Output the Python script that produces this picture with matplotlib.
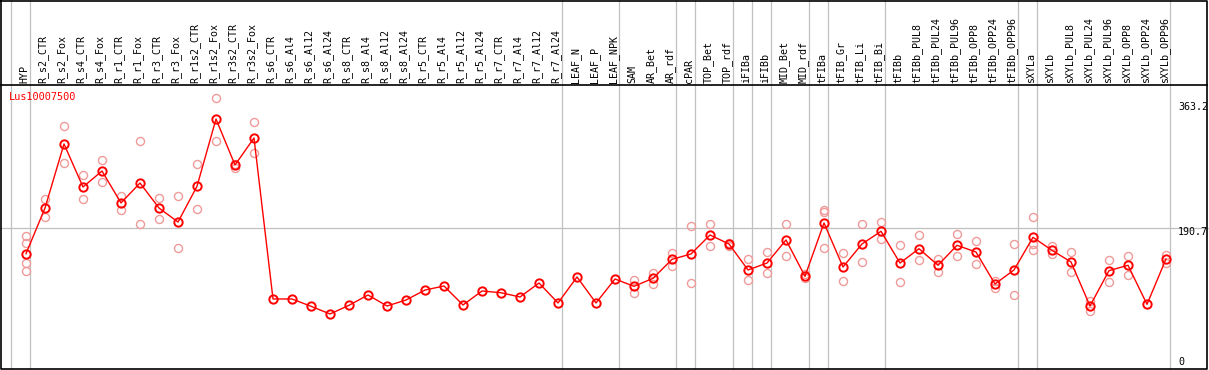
import matplotlib
matplotlib.use("Agg")
import matplotlib.pyplot as plt
from matplotlib.transforms import Affine2D, blended_transform_factory

W, H = 1209, 370

categories = ["HYP", "R_s2_CTR", "R_s2_Fox", "R_s4_CTR", "R_s4_Fox", "R_r1_CTR", "R_r1_Fox",
              "R_r3_CTR", "R_r3_Fox", "R_r1s2_CTR", "R_r1s2_Fox", "R_r3s2_CTR", "R_r3s2_Fox",
              "R_s6_CTR", "R_s6_Al4", "R_s6_Al12", "R_s6_Al24", "R_s8_CTR", "R_s8_Al4", "R_s8_Al12",
              "R_s8_Al24", "R_r5_CTR", "R_r5_Al4", "R_r5_Al12", "R_r5_Al24", "R_r7_CTR", "R_r7_Al4",
              "R_r7_Al12", "R_r7_Al24", "LEAF_N", "LEAF_P", "LEAF_NPK", "SAM", "AR_Bet", "AR_rdf",
              "cPAR", "TOP_Bet", "TOP_rdf", "iFIBa", "iFIBb", "MID_Bet", "MID_rdf", "tFIBa",
              "tFIB_Gr", "tFIB_Li", "tFIB_Bi", "tFIBb", "tFIBb_PUL8", "tFIBb_PUL24", "tFIBb_PUL96",
              "tFIBb_OPP8", "tFIBb_OPP24", "tFIBb_OPP96", "sXYLa", "sXYLb", "sXYLb_PUL8",
              "sXYLb_PUL24", "sXYLb_PUL96", "sXYLb_OPP8", "sXYLb_OPP24", "sXYLb_OPP96"]

means = [157, 217.6, 302.6, 245.5, 266.7, 224.3, 250.8, 217.6, 199, 246.4, 335.7, 274.7, 310.5,
         96.9, 96.9, 87.2, 77, 88.5, 102.2, 87.6, 95.5, 108.8, 114.1, 88.9, 107.5, 105.2, 99.5,
         118.1, 91.6, 126.1, 91.6, 123.4, 113.7, 124.3, 149.5, 156.6, 181.8, 169.9, 135.4, 144.6,
         175.2, 127, 197.7, 139.3, 169.9, 186.7, 144.6, 163.6, 141.6, 168.1, 159.2, 116.8, 135.4,
         178.7, 161.5, 146, 87.6, 134.5, 141.6, 89.8, 150]

replicates = [[180, 171, 144, 134], [229.6, 205.3], [326, 277], [261, 229.6], [281, 252],
              [233.6, 214.5], [306.5, 196.4], [230.9, 202.6], [233.6, 164], [276, 216.3],
              [363.2, 306.5], [276, 270.3], [331.8, 290.2],
              [], [], [], [], [], [], [], [], [], [], [], [], [], [], [], [], [], [], [],
              [122.1, 104.4], [131.8, 117.2], [157.9, 140.3], [193.7, 117.7], [196.4, 167.2],
              [171.2, 167.2], [150, 121.7], [159.2, 131], [196.4, 153.5], [129.6, 125.1],
              [214.5, 212.7, 164.1], [157.5, 120.8], [196.4, 146], [199, 176.9], [168.5, 119],
              [181.4, 148.2], [149.5, 133.1], [183.1, 153.5], [173.8, 143.3], [120.8, 111.9],
              [169.5, 101.8], [205.7, 169.5, 161.9], [167.6, 156.6], [159.2, 132.3],
              [94.6, 80.5], [148.6, 119.4], [153.9, 128.3], [], [154.9, 145]]

group_ends = [-1, 0, 28, 31, 34, 35, 37, 38, 39, 41, 42, 45, 52, 53, 60]
axis_labels = [363.2, 190.7, 0]
title = "Lus10007500"

fig = plt.figure(figsize=(W / 100, H / 100), dpi=100)
ax = fig.add_axes([0, 0, 1, 1])
ax.set_axis_off()

# pixel layout: column i at x = 26 + 19*i ; value v at y_from_top = 372 - 0.7536*v
x0, dx = 26.0, 19.0
ax.set_xlim(-x0 / dx, (W - x0) / dx)
sc = 0.7536
ax.set_ylim((372 - H) / sc, 372 / sc)

pix = Affine2D().scale(1 / W, -1 / H).translate(0, 1) + fig.transFigure
xpix = blended_transform_factory(ax.transData, pix)

mono = "DejaVu Sans Mono"
grey = "#c0c0c0"

# separators
for g in group_ends:
    ax.plot([g + 1 - 14.8 / dx] * 2, [0, 1], transform=blended_transform_factory(ax.transData, ax.transAxes),
            color=grey, lw=0.9, zorder=1)
ax.axhline(190.7, color=grey, lw=0.9, zorder=1)

# frame and header line
ax.plot([1, 1207, 1207, 1, 1], [0.5, 0.5, 369, 369, 0.5], transform=pix, color="black", lw=1.2,
        clip_on=False, zorder=5)
ax.plot([1, 1207], [85, 85], transform=pix, color="black", lw=1.2, zorder=5)

# header labels
for i, lab in enumerate(categories):
    ax.text(i - 0.1, 83, lab, transform=xpix, rotation=90, ha="center", va="bottom",
            fontsize=7.2, family=mono, color="black")

# replicate points
rx, ry = [], []
for i, reps in enumerate(replicates):
    for r in reps:
        rx.append(i)
        ry.append(r)
ax.plot(rx, ry, ls="none", marker="o", ms=5.8, mfc="none", mec="#f09a9a", mew=1.0, zorder=3)

# mean line
ax.plot(range(len(means)), means, color="#ff0000", lw=1.0, marker="o", ms=6.0, mfc="none",
        mec="#ff0000", mew=1.4, zorder=4)

# right-hand value labels
label_y = {363.2: 107, 190.7: 232, 0: 362}
for v in axis_labels:
    ax.text(1178, label_y[v], f"{v:g}", transform=pix, ha="left", va="center", fontsize=7.2,
            family=mono, color="black")

ax.text(9, 97, title, transform=pix, ha="left", va="center", fontsize=7.4, family=mono,
        color="#ff0000")

fig.savefig("out.png", dpi=100)
